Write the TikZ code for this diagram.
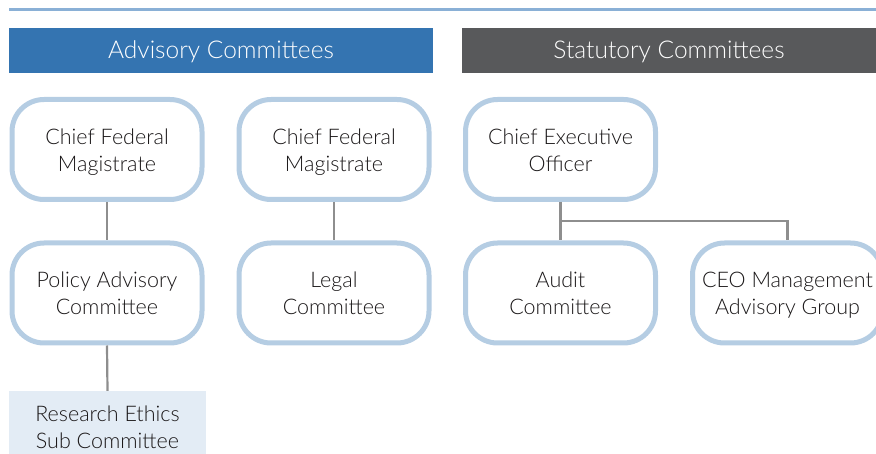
\documentclass[tikz,border=0pt]{standalone}
\usepackage{fontspec}
\setmainfont{Lato}[UprightFont={* Light}]
\definecolor{rulebl}{HTML}{8AB0D6}
\definecolor{advblue}{HTML}{3474B1}
\definecolor{statgray}{HTML}{58595B}
\definecolor{boxedge}{HTML}{B5CDE3}
\definecolor{linkgray}{HTML}{8E8E8E}
\definecolor{subfill}{HTML}{E3ECF5}
\definecolor{ink}{HTML}{1A1718}
\tikzset{
  header/.style={fill=#1, text=white, minimum height=45pt, inner sep=0pt,
    text height=22pt, text depth=5pt,
    font=\fontsize{24.5}{28}\selectfont},
  % invisible rules around the two-line block fix its vertical position
  twoline/.style={align=center, text=ink, inner sep=0pt,
    font=\fontsize{21.5}{27}\selectfont,
    execute at begin node={\rule{0pt}{49pt}},
    execute at end node={\rule[-5pt]{0pt}{0pt}}},
  cbox/.style={twoline, draw=boxedge, line width=5pt, rounded corners=32pt,
    fill=white, minimum width=190pt, minimum height=100pt},
  subbox/.style={twoline, fill=subfill, minimum width=197pt, minimum height=70pt},
  link/.style={draw=linkgray, line width=2.2pt},
}
\begin{document}
\begin{tikzpicture}[x=1pt,y=-1pt]
\useasboundingbox (0,0) rectangle (876,454);
\clip (0,0) rectangle (876,454);
% top rule
\coordinate (ruleL) at (9,9.5);
\coordinate (ruleR) at (876,9.5);
\draw[rulebl, line width=2.5pt] (ruleL) -- (ruleR);
% column headings
\node[header=advblue, minimum width=424pt] (adv) at (221,50.5) {Advisory Committees};
\node[header=statgray, minimum width=414pt] (stat) at (669,50.5) {Statutory Committees};
% first row
\node[cbox] (cfm1) at (107,149.5) {Chief Federal\\Magistrate};
\node[cbox] (cfm2) at (334,149.5) {Chief Federal\\Magistrate};
\node[cbox] (ceo) at (560.5,149.5) {Chief Executive\\Officer};
% second row
\node[cbox] (pac) at (107,293) {Policy Advisory\\Committee};
\node[cbox] (legal) at (334,293) {Legal\\Committee};
\node[cbox] (audit) at (560.5,293) {Audit\\Committee};
\node[cbox] (cmag) at (787.5,293) {CEO Management\\Advisory Group};
% third row
\node[subbox] (resc) at (107.5,426) {Research Ethics\\Sub Committee};
% connectors
\draw[link] (cfm1.south) -- (pac.north);
\draw[link] (cfm2.south) -- (legal.north);
\draw[link] (pac.south) -- (resc.north);
\draw[link] (ceo.south) -- (audit.north);
\coordinate (split) at (560.5,221);
\draw[link] (split) -| (cmag.north);
\end{tikzpicture}
\end{document}
